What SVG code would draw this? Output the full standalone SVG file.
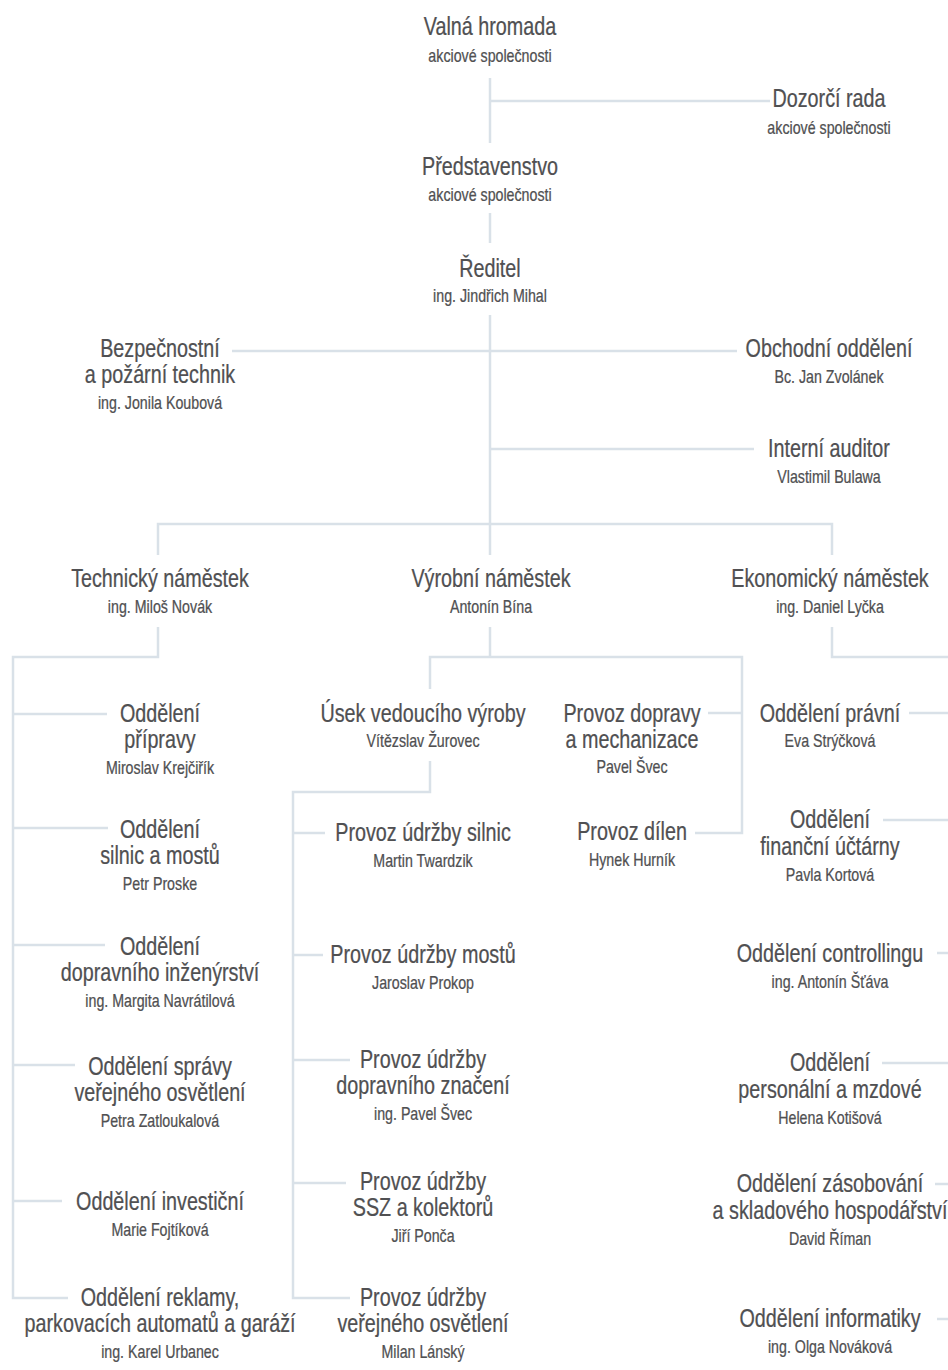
<svg xmlns="http://www.w3.org/2000/svg" width="948" height="1370" viewBox="0 0 948 1370">
<style>
text{font-family:"Liberation Sans",Arial,sans-serif;fill:#505052;stroke:#505052;stroke-width:0.25;text-anchor:middle}
.b{font-size:25px}
.s{font-size:18px}
.c{fill:none;stroke:#d9e1e8;stroke-width:2.5}
</style>
<rect width="948" height="1370" fill="#fff"/>
<g id="connectors" class="c">
<path d="M490,78V143M490,101H770M490,213V243M490,315V555M232,351H737M490,449H754M158,555V524H832V555"/>
<path d="M158,627V657H13V1298H68M13,714H107M13,828H108M13,945H105M13,1065H75M13,1201H62"/>
<path d="M490,627V657M430,689V657H742V833H695M742,713H708"/>
<path d="M430,761V792H293V1298H350M293,833H325M293,955H323M293,1060H350M293,1183H346"/>
<path d="M832,627V657H948M909,713H948M883,820H948M937,953H948M882,1063H948M935,1184H948M937,1319H948"/>
</g>
<g id="valna" transform="translate(490 0) scale(0.79 1)"><text class="b" y="35">Valná hromada</text><text class="s" y="62">akciové společnosti</text></g>
<g id="dozorci" transform="translate(829 0) scale(0.79 1)"><text class="b" y="107">Dozorčí rada</text><text class="s" y="134">akciové společnosti</text></g>
<g id="predstavenstvo" transform="translate(490 0) scale(0.79 1)"><text class="b" y="175">Představenstvo</text><text class="s" y="201">akciové společnosti</text></g>
<g id="reditel" transform="translate(490 0) scale(0.79 1)"><text class="b" y="277">Ředitel</text><text class="s" y="302">ing. Jindřich Mihal</text></g>
<g id="bezpecnostni" transform="translate(160 0) scale(0.79 1)"><text class="b" y="357">Bezpečnostní</text><text class="b" y="383">a požární technik</text><text class="s" y="409">ing. Jonila Koubová</text></g>
<g id="obchodni" transform="translate(829 0) scale(0.79 1)"><text class="b" y="357">Obchodní oddělení</text><text class="s" y="383">Bc. Jan Zvolánek</text></g>
<g id="interni" transform="translate(829 0) scale(0.79 1)"><text class="b" y="457">Interní auditor</text><text class="s" y="483">Vlastimil Bulawa</text></g>
<g id="technicky" transform="translate(160 0) scale(0.79 1)"><text class="b" y="587">Technický náměstek</text><text class="s" y="613">ing. Miloš Novák</text></g>
<g id="vyrobni" transform="translate(491 0) scale(0.79 1)"><text class="b" y="587">Výrobní náměstek</text><text class="s" y="613">Antonín Bína</text></g>
<g id="ekonomicky" transform="translate(830 0) scale(0.79 1)"><text class="b" y="587">Ekonomický náměstek</text><text class="s" y="613">ing. Daniel Lyčka</text></g>
<g id="pripravy" transform="translate(160 0) scale(0.79 1)"><text class="b" y="722">Oddělení</text><text class="b" y="748">přípravy</text><text class="s" y="774">Miroslav Krejčiřík</text></g>
<g id="silnic-mostu" transform="translate(160 0) scale(0.79 1)"><text class="b" y="838">Oddělení</text><text class="b" y="864">silnic a mostů</text><text class="s" y="890">Petr Proske</text></g>
<g id="dopravniho" transform="translate(160 0) scale(0.79 1)"><text class="b" y="955">Oddělení</text><text class="b" y="981">dopravního inženýrství</text><text class="s" y="1007">ing. Margita Navrátilová</text></g>
<g id="spravy-vo" transform="translate(160 0) scale(0.79 1)"><text class="b" y="1075">Oddělení správy</text><text class="b" y="1101">veřejného osvětlení</text><text class="s" y="1127">Petra Zatloukalová</text></g>
<g id="investicni" transform="translate(160 0) scale(0.79 1)"><text class="b" y="1210">Oddělení investiční</text><text class="s" y="1236">Marie Fojtíková</text></g>
<g id="reklamy" transform="translate(160 0) scale(0.79 1)"><text class="b" y="1306">Oddělení reklamy,</text><text class="b" y="1332">parkovacích automatů a garáží</text><text class="s" y="1358">ing. Karel Urbanec</text></g>
<g id="usek" transform="translate(423 0) scale(0.79 1)"><text class="b" y="722">Úsek vedoucího výroby</text><text class="s" y="747">Vítězslav Žurovec</text></g>
<g id="udrzba-silnic" transform="translate(423 0) scale(0.79 1)"><text class="b" y="841">Provoz údržby silnic</text><text class="s" y="867">Martin Twardzik</text></g>
<g id="udrzba-mostu" transform="translate(423 0) scale(0.79 1)"><text class="b" y="963">Provoz údržby mostů</text><text class="s" y="989">Jaroslav Prokop</text></g>
<g id="udrzba-znaceni" transform="translate(423 0) scale(0.79 1)"><text class="b" y="1068">Provoz údržby</text><text class="b" y="1094">dopravního značení</text><text class="s" y="1120">ing. Pavel Švec</text></g>
<g id="udrzba-ssz" transform="translate(423 0) scale(0.79 1)"><text class="b" y="1190">Provoz údržby</text><text class="b" y="1216">SSZ a kolektorů</text><text class="s" y="1242">Jiří Ponča</text></g>
<g id="udrzba-vo" transform="translate(423 0) scale(0.79 1)"><text class="b" y="1306">Provoz údržby</text><text class="b" y="1332">veřejného osvětlení</text><text class="s" y="1358">Milan Lánský</text></g>
<g id="doprava" transform="translate(632 0) scale(0.79 1)"><text class="b" y="722">Provoz dopravy</text><text class="b" y="748">a mechanizace</text><text class="s" y="773">Pavel Švec</text></g>
<g id="dilen" transform="translate(632 0) scale(0.79 1)"><text class="b" y="840">Provoz dílen</text><text class="s" y="866">Hynek Hurník</text></g>
<g id="pravni" transform="translate(830 0) scale(0.79 1)"><text class="b" y="722">Oddělení právní</text><text class="s" y="747">Eva Strýčková</text></g>
<g id="financni" transform="translate(830 0) scale(0.79 1)"><text class="b" y="828">Oddělení</text><text class="b" y="855">finanční účtárny</text><text class="s" y="881">Pavla Kortová</text></g>
<g id="controlling" transform="translate(830 0) scale(0.79 1)"><text class="b" y="962">Oddělení controllingu</text><text class="s" y="988">ing. Antonín Šťáva</text></g>
<g id="personalni" transform="translate(830 0) scale(0.79 1)"><text class="b" y="1071">Oddělení</text><text class="b" y="1098">personální a mzdové</text><text class="s" y="1124">Helena Kotišová</text></g>
<g id="zasobovani" transform="translate(830 0) scale(0.79 1)"><text class="b" y="1192">Oddělení zásobování</text><text class="b" y="1219">a skladového hospodářství</text><text class="s" y="1245">David Říman</text></g>
<g id="informatika" transform="translate(830 0) scale(0.79 1)"><text class="b" y="1327">Oddělení informatiky</text><text class="s" y="1353">ing. Olga Nováková</text></g>
</svg>
